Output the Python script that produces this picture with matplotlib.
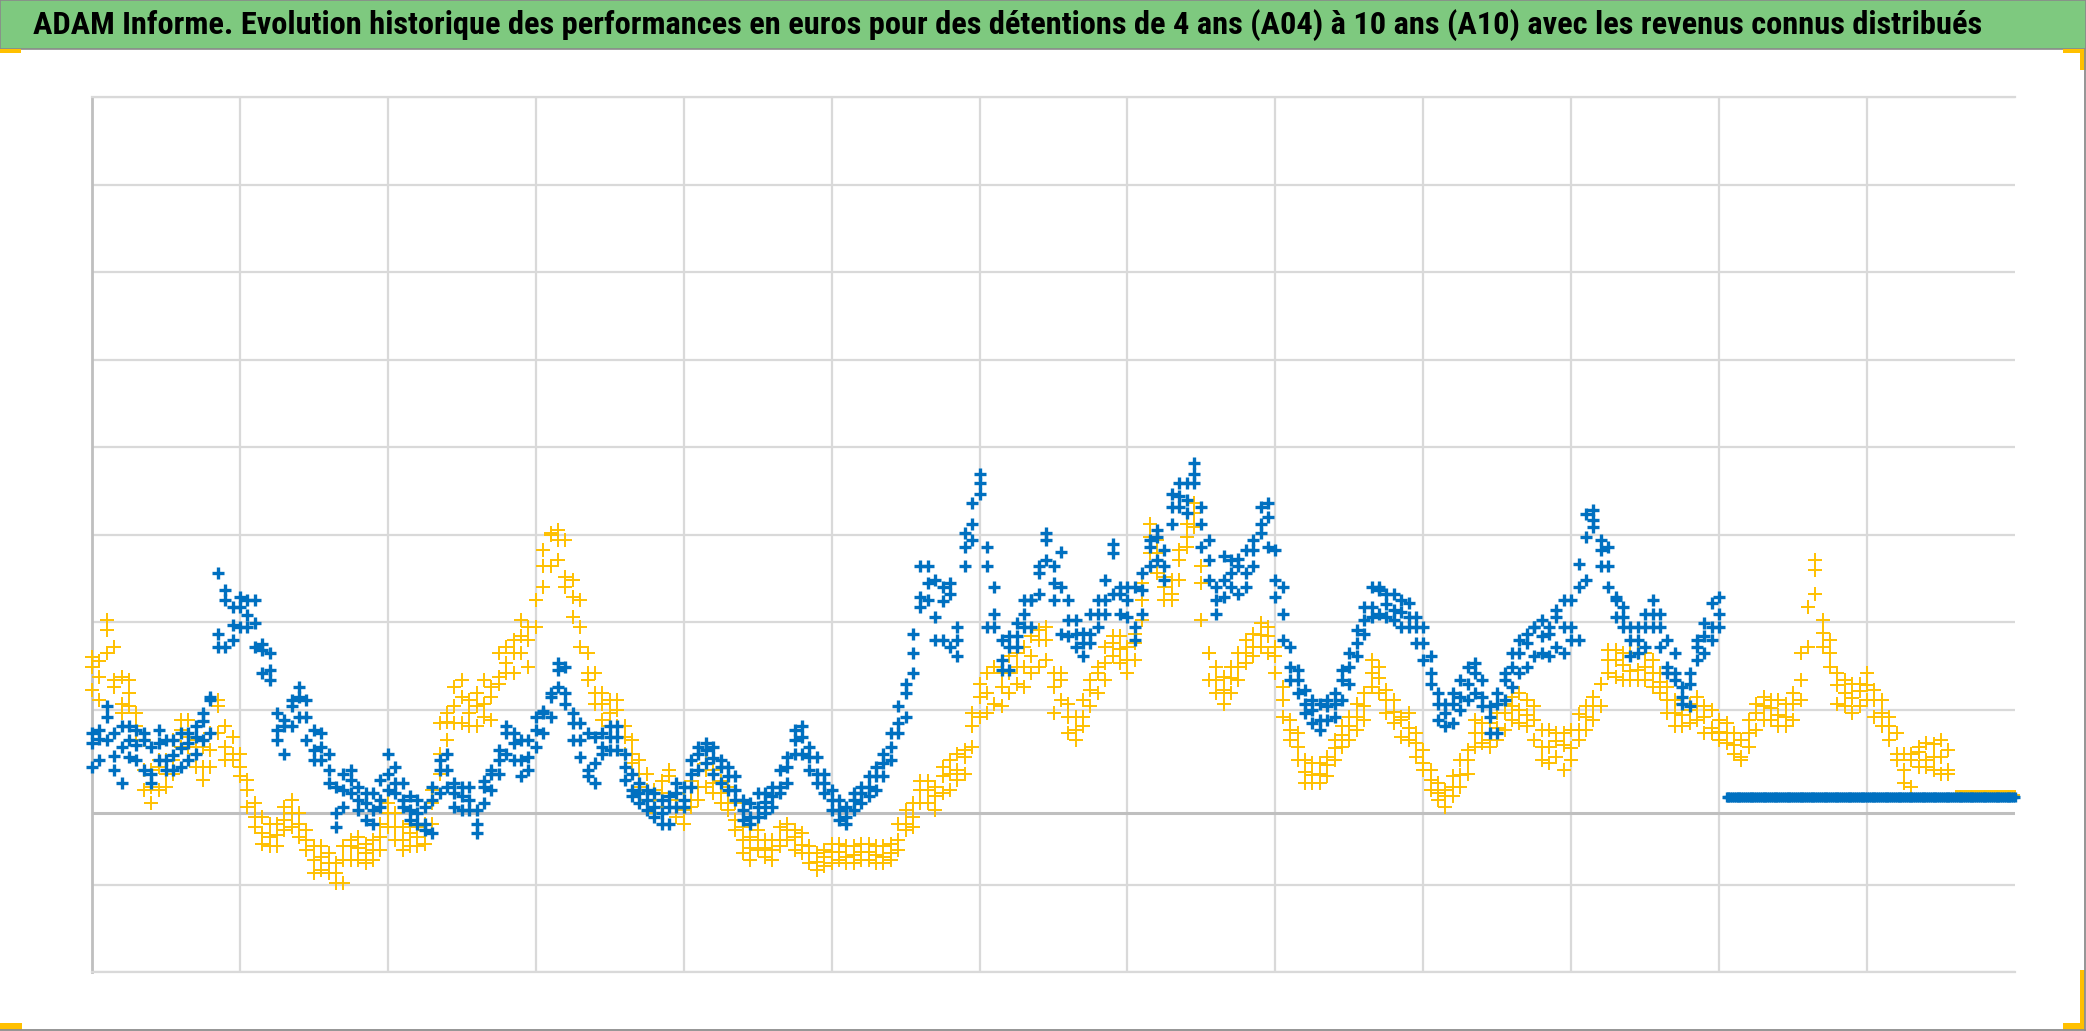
import numpy as np
import matplotlib
matplotlib.use("Agg")
import matplotlib.pyplot as plt
from matplotlib.patches import Rectangle
from matplotlib import font_manager as fm

# ---------------- data ----------------
TITLE = ("ADAM Informe. Evolution historique des performances en euros pour des "
         "détentions de 4 ans (A04) à 10 ans (A10) avec les revenus connus distribués")

STEP = 0.05          # spacing of the central readings along the x axis (grid units)
STEP_ENV = 0.10      # spacing of the readings of the upper / lower edge of each cloud
STEP_FLAT = 0.0125   # spacing of the daily points of the flat (not yet available) tail

# ---- A10 (blue) performance, % : central readings
a10_part1 = [6.2, 6.7, 9.2, 4.7, 5.8, 6.6, 6.0, 6.6, 2.7, 6.2,
             4.3, 4.8, 5.6, 6.2, 6.9, 8.7, 11.1, 18.7, 23.7, 19.7,
             21.8, 20.8, 19.9, 16.8, 14.6, 7.7, 8.1, 10.4, 11.5, 9.2,
             5.4, 5.8, 3.1, -1.8, 0.8, 2.0, -0.3, -0.7, -1.4, -0.3,
             2.7, 1.6, -0.3, -1.4, -1.8, -3.0, -0.3, 3.1, 3.1, 0.5,
             0.1, -0.3, -3.0, 1.2, 2.7, 4.3, 7.3, 6.2, 4.3, 4.6,
             7.7, 9.6, 11.5, 14.6, 11.9, 8.5, 6.6, 3.1, 3.9, 5.8,
             6.9, 6.9, 3.5, 0.8, 0.5, -0.3, -1.1, -1.8, -1.1, 0.5,
             -0.3, 2.7, 5.0, 5.4, 4.5, 3.5, 2.4, 0.8, -1.4, -2.2,
             -1.1, -0.5, 0.1, 1.2, 3.5, 6.6, 6.9, 4.6, 2.7, 1.6,
             -0.3, -1.4, -2.2, -0.3, 0.5, 1.2, 2.4, 3.9, 5.8, 8.5,
             11.9, 16.5, 22.9, 24.5, 20.6, 22.5, 23.3, 18.0, 28.6, 31.3,
             35.9, 26.4, 21.0, 15.7, 17.2, 18.4, 21.0, 22.6, 25.6, 29.4,
             24.5]
a10_part2 = [24.1, 20.3, 18.7, 17.6, 18.7, 21.0, 22.6, 27.9, 23.3, 22.6,
             18.0, 23.7, 28.6, 29.8, 26.4, 33.2, 34.4, 34.0, 37.0, 31.3,
             27.1, 22.6, 24.8, 25.6, 26.4, 25.6, 28.3, 31.3, 32.1, 24.8,
             21.0, 14.9, 13.4, 10.7, 10.0, 8.8, 10.4, 10.7, 13.4, 14.9,
             17.6, 20.3, 21.8, 23.7, 22.1, 21.4, 21.2, 20.6, 19.5, 17.6,
             14.2, 10.7, 9.6, 10.7, 11.5, 13.0, 14.2, 11.5, 9.2, 10.7,
             13.4, 14.9, 16.5, 17.6, 19.5, 18.4, 18.7, 20.6, 19.5, 19.5,
             24.1, 29.8, 31.7, 28.3, 26.4, 22.6, 20.6, 18.0, 18.0, 19.5,
             21.0, 19.5, 14.9, 14.2, 11.5, 13.0, 17.2, 18.4, 19.5, 21.0]
a10_unavailable = [0.0] * 157    # last periods: no 10-year result yet

# ---- A10 : upper and lower edge of the cloud (x = 0, 0.1, 0.2 ...)
a10_high = [7.3, 10.4, 8.1, 7.7, 5.8, 6.6, 7.3, 8.1, 11.5, 22.6,
            22.9, 22.6, 16.5, 8.8, 12.6, 7.7, 5.0, 2.7, 1.2, 0.5,
            5.0, 1.6, -0.3, 1.2, 5.0, 1.2, -1.4, 3.1, 8.1, 6.6,
            9.2, 11.9, 14.9, 8.5, 6.9, 8.1, 5.0, 1.6, 0.5, 0.1,
            1.2, 5.8, 5.8, 3.5, -0.3, 0.5, 1.2, 4.6, 8.1, 4.6,
            0.8, -1.1, 1.2, 3.5, 7.3, 13.0, 26.4, 24.8, 24.5, 30.2,
            37.0, 24.1, 18.4, 22.6, 26.4, 26.4,
            22.6, 18.8, 22.6, 29.0, 24.1, 25.6, 30.6, 34.7, 35.9, 33.2,
            24.1, 27.1, 28.3, 33.2, 28.3, 17.2, 12.3, 10.7, 11.9, 16.5,
            21.8, 24.1, 23.3, 22.2, 19.5, 11.9, 11.9, 14.9, 13.4, 11.9,
            16.5, 18.7, 20.3, 21.4, 22.6, 32.4, 29.4, 22.9, 19.5, 21.0,
            21.0, 16.5, 14.2, 19.9, 22.9]
a10_low = [3.5, 6.6, 1.6, 4.3, 1.6, 3.1, 3.5, 5.0, 7.3, 17.2,
           19.5, 17.2, 13.4, 5.0, 9.2, 4.3, 1.6, -1.1, -1.4, -3.0,
           0.8, -1.1, -3.0, -4.1, 1.2, -1.4, -4.1, 0.8, 5.0, 2.4,
           5.8, 9.2, 10.7, 4.6, 1.6, 5.4, 2.0, -0.7, -2.2, -3.0,
           -1.1, 3.1, 2.7, 0.8, -2.6, -2.2, -1.1, 1.6, 5.0, 1.6,
           -1.4, -3.0, -0.7, 0.8, 4.3, 9.2, 21.8, 18.0, 17.2, 26.4,
           34.7, 19.5, 14.6, 19.5, 23.3, 22.6,
           18.4, 16.1, 19.5, 23.3, 20.6, 21.0, 27.1, 31.3, 32.5, 28.6,
           21.0, 24.1, 24.1, 30.2, 22.9, 13.4, 9.6, 7.7, 9.2, 13.0,
           18.7, 21.0, 20.3, 19.5, 15.7, 8.8, 8.5, 11.1, 10.4, 7.3,
           12.6, 14.9, 16.5, 17.2, 18.0, 24.8, 26.4, 20.6, 16.1, 17.2,
           17.2, 13.4, 10.4, 16.5, 19.5]
# ---- A10 : upper and lower edge of the cloud (x = 0.05, 0.15, 0.25 ...)
a10_high_mid = [7.7, 7.3, 8.1, 7.3, 7.7, 6.6, 7.3, 9.6, 25.6, 21.8,
                22.6, 17.5, 9.6, 11.1, 11.1, 7.3, 1.2, 3.1, 0.5, 2.0,
                3.5, 0.1, -1.1, 4.3, 1.6, 1.2, 1.9, 5.4, 7.3, 6.6,
                9.9, 15.3, 9.6, 7.3, 7.3, 8.1, 2.7, 0.8, -0.3, 1.6,
                4.3, 6.2, 4.3, 2.4, -0.7, 0.5, 3.1, 7.7, 5.8, 2.7,
                -0.3, 0.5, 2.4, 5.0, 10.4, 18.7, 26.4, 24.1, 19.5, 33.6,
                28.6, 18.0, 19.9, 22.6, 30.2,
                28.1, 20.3, 21.0, 24.8, 24.1, 24.1, 29.4, 28.3, 35.9, 38.2,
                29.4, 27.6, 27.2, 29.4, 33.6, 24.1, 14.6, 11.1, 11.1, 14.6,
                19.1, 24.1, 23.3, 22.6, 20.6, 16.1, 10.7, 13.4, 15.3, 10.4,
                14.2, 18.0, 19.5, 19.5, 22.6, 26.7, 32.8, 28.6, 21.8, 19.5,
                22.6, 18.0, 12.6, 18.0, 22.2]
a10_low_mid = [4.3, 3.1, 4.6, 3.1, 4.3, 3.1, 4.3, 6.6, 17.2, 18.0,
               19.5, 14.2, 6.6, 8.1, 6.6, 4.3, -3.4, 0.5, -2.6, -1.1,
               0.5, -2.6, -3.7, 0.5, -1.1, -1.4, -0.7, 2.7, 4.3, 3.1,
               7.3, 12.6, 6.6, 2.4, 5.0, 5.4, 0.1, -1.4, -3.0, -1.1,
               1.2, 3.9, 1.6, -0.3, -3.0, -1.8, 0.5, 5.0, 3.1, 0.5,
               -2.6, -1.4, 0.1, 2.4, 7.3, 14.2, 22.6, 18.0, 16.1, 29.4,
               19.5, 14.6, 17.2, 19.5, 27.1,
               18.7, 17.2, 17.6, 21.0, 21.0, 19.5, 26.4, 24.8, 33.2, 35.9,
               24.8, 22.9, 23.3, 26.4, 28.6, 18.0, 11.9, 8.5, 8.8, 11.1,
               16.1, 20.6, 20.6, 19.5, 17.6, 13.0, 8.1, 10.0, 11.9, 7.3,
               11.1, 14.2, 16.1, 16.1, 16.5, 18.0, 30.9, 24.1, 19.5, 16.5,
               19.5, 14.2, 10.7, 15.7, 18.0]

# ---- A04 (yellow) performance, % : central readings
a04_part1 = [14.9, 13.8, 19.1, 13.4, 10.7, 11.9, 8.1, 3.1, 1.2, 3.5,
             2.7, 4.3, 7.7, 6.9, 5.0, 3.5, 5.4, 10.4, 5.8, 5.0,
             3.5, 0.8, -2.2, -4.1, -4.5, -4.3, -2.6, -1.8, -3.0, -4.9,
             -7.2, -6.8, -7.5, -8.7, -7.2, -5.6, -5.8, -6.4, -6.0, -4.5,
             -1.8, -3.4, -4.9, -4.1, -4.5, -3.7, -0.7, 5.0, 8.6, 10.4,
             11.5, 9.6, 10.4, 10.7, 11.5, 13.8, 15.3, 16.5, 18.4, 18.0,
             22.6, 26.4, 30.0, 29.4, 25.2, 22.9, 19.5, 14.2, 11.9, 10.7,
             9.6, 10.0, 6.9, 5.0, 2.7, 0.8, -0.3, 0.5, 2.4, -0.3,
             -1.4, -0.3, 1.2, 3.1, 1.6, 0.5, -0.7, -2.6, -4.9, -5.8,
             -4.9, -5.8, -6.0, -4.9, -3.7, -4.5, -5.5, -6.4, -7.4, -6.8,
             -6.2, -6.2, -6.8, -6.6, -6.2, -6.2, -6.6, -6.8, -6.4, -4.9,
             -3.0, -2.2, 0.8, 0.8, 0.1, 2.4, 2.7, 3.1, 4.6, 8.1,
             11.5, 11.9, 14.9, 12.6, 14.2, 14.9, 14.9, 16.1, 18.0, 18.0,
             12.6]
a04_part2 = [13.4, 9.2, 7.7, 9.2, 12.3, 14.2, 15.3, 17.6, 17.0, 15.7,
             17.6, 22.6, 29.8, 27.9, 24.1, 23.3, 27.1, 29.8, 32.5, 24.5,
             16.5, 13.4, 12.3, 13.6, 14.9, 16.5, 17.2, 18.6, 18.4, 16.1,
             11.1, 7.7, 5.8, 2.9, 2.6, 2.7, 3.7, 5.6, 7.1, 8.1,
             9.2, 10.4, 14.2, 13.6, 11.1, 9.8, 8.8, 7.9, 6.2, 3.9,
             2.0, 0.5, 0.1, 1.2, 2.6, 4.3, 7.3, 7.4, 6.6, 7.9,
             9.6, 10.4, 10.0, 9.4, 8.8, 5.8, 5.8, 6.4, 6.0, 5.6,
             7.7, 9.2, 10.4, 13.0, 15.7, 15.7, 15.1, 14.4, 14.6, 14.9,
             14.2, 13.2, 11.1, 9.6, 9.4, 10.0, 10.4, 9.2, 7.9, 7.5,
             7.3, 6.0, 4.6, 7.3, 9.6, 10.4, 10.2, 9.4, 9.2, 10.7,
             13.4, 21.8, 26.0, 18.8, 16.5, 12.8, 11.9, 11.3, 12.1, 12.8,
             11.1, 9.6, 8.1, 5.0, 3.1, 4.3, 5.2, 4.3, 4.6, 4.6,
             3.1]
a04_unavailable = [0.3] * 33

# ---- A04 : upper and lower edge of the cloud (x = 0, 0.1, 0.2 ...)
a04_high = [16.0, 20.3, 13.8, 9.6, 3.1, 4.3, 8.8, 6.6, 7.3, 8.1,
            5.0, -0.7, -3.0, -1.1, -1.8, -5.6, -6.4, -5.6, -4.5, -4.9,
            -0.7, -3.4, -3.4, 0.8, 9.6, 13.4, 11.9, 12.6, 17.2, 20.3,
            22.6, 30.2, 29.4, 22.6, 14.2, 11.1, 8.1, 4.3, 0.8, 3.1,
            -0.3, 3.1, 3.1, 1.2, -3.4, -3.7, -4.9, -3.0, -4.1, -6.4,
            -5.3, -5.6, -5.3, -5.6, -5.3, -1.4, 1.9, 1.2, 4.3, 5.4,
            13.0, 14.9, 16.1, 17.2, 19.1, 14.2,
            10.7, 11.1, 14.9, 18.4, 17.2, 24.5, 29.4, 24.8, 31.3, 26.4,
            14.9, 14.9, 18.0, 19.9, 17.2, 8.8, 4.3, 3.9, 6.6, 9.2,
            11.9, 14.9, 11.1, 9.6, 5.4, 1.6, 2.4, 5.4, 8.5, 9.6,
            11.5, 11.1, 7.7, 7.3, 7.7, 10.4, 13.0, 16.8, 16.5, 16.5,
            14.2, 11.1, 10.7, 10.4, 8.8, 7.3, 8.8, 11.5, 11.1, 11.9,
            21.8, 20.3, 14.2, 13.0, 14.2, 11.1, 7.3, 5.0, 6.2, 6.6]
a04_low = [12.3, 16.5, 9.6, 6.6, -0.7, 1.2, 5.8, 3.5, 3.5, 4.3,
           2.4, -3.4, -5.6, -3.7, -4.5, -8.7, -8.7, -9.8, -7.2, -7.2,
           -3.4, -6.0, -5.6, -3.0, 6.6, 8.5, 8.1, 8.8, 14.2, 16.5,
           19.5, 26.4, 24.1, 17.2, 10.7, 8.1, 5.0, 1.2, -1.8, -0.3,
           -3.0, -0.3, 0.5, -1.4, -6.4, -6.0, -7.2, -4.9, -6.4, -8.3,
           -7.5, -7.5, -7.2, -7.5, -7.2, -3.7, -0.7, -1.4, 0.8, 2.7,
           9.2, 10.7, 11.9, 12.6, 14.9, 9.6,
           7.3, 8.1, 11.9, 16.1, 14.2, 20.3, 25.6, 22.6, 28.6, 20.3,
           11.9, 11.9, 15.3, 17.2, 14.2, 6.6, 1.6, 1.6, 4.3, 6.6,
           8.8, 11.9, 8.5, 6.6, 3.1, -0.3, 0.1, 2.7, 6.2, 6.6,
           8.8, 8.1, 4.3, 4.6, 4.3, 7.7, 10.4, 13.8, 13.4, 13.4,
           11.9, 8.1, 8.5, 7.3, 6.6, 5.0, 5.8, 8.8, 8.1, 8.8,
           17.2, 17.2, 10.7, 9.6, 11.1, 8.1, 4.3, 1.2, 3.5, 2.7]
# ---- A04 : upper and lower edge of the cloud (x = 0.05, 0.15, 0.25 ...)
a04_high_mid = [15.6, 17.2, 13.4, 6.6, 4.3, 6.6, 8.8, 5.8, 11.1, 6.9,
                2.0, -2.2, -3.0, -0.3, -3.7, -5.6, -7.5, -4.9, -5.3, -3.0,
                -1.8, -3.0, -3.0, 8.5, 12.6, 11.1, 13.4, 16.5, 18.0, 19.5,
                28.3, 30.6, 24.8, 16.5, 11.9, 11.1, 6.6, 2.7, 1.9, 0.5,
                1.9, 3.9, 1.9, -0.7, -4.5, -4.9, -3.4, -3.7, -5.6, -6.0,
                -5.3, -5.6, -5.3, -5.6, -3.0, -0.7, 1.9, 3.5, 5.0, 9.6,
                14.2, 14.2, 16.5, 18.4, 19.5,
                14.2, 9.2, 13.4, 17.2, 18.4, 18.7, 31.3, 25.2, 28.3, 33.6,
                16.5, 13.8, 16.5, 18.7, 19.5, 12.6, 7.3, 3.9, 4.6, 8.1,
                10.7, 15.7, 12.3, 9.2, 7.3, 3.1, 0.8, 4.3, 8.8, 8.5,
                10.7, 11.9, 10.4, 7.7, 7.3, 9.5, 11.5, 16.8, 16.5, 16.5,
                15.7, 12.6, 10.7, 11.5, 10.0, 8.5, 6.6, 10.7, 11.1, 10.7,
                16.5, 27.1, 18.0, 13.4, 13.0, 12.3, 9.2, 5.0, 5.8, 6.1,
                5.4]
a04_low_mid = [11.1, 12.6, 10.4, 0.8, 0.8, 2.7, 5.8, 2.0, 7.3, 4.3,
               -1.1, -5.3, -5.6, -3.4, -6.0, -8.3, -9.8, -7.2, -7.5, -6.0,
               -4.9, -5.6, -5.3, 2.7, 8.5, 8.1, 9.2, 13.0, 14.2, 14.9,
               24.1, 27.1, 20.6, 13.4, 8.8, 8.1, 3.9, -0.3, -1.1, -2.2,
               -1.1, 1.2, -0.7, -3.7, -7.2, -6.8, -5.6, -6.0, -7.5, -7.9,
               -7.2, -7.5, -7.2, -7.5, -6.0, -3.4, -0.7, 0.5, 2.0, 5.8,
               9.6, 10.4, 13.0, 14.2, 15.7,
               11.1, 6.6, 10.4, 13.4, 15.3, 15.7, 27.9, 22.6, 24.8, 30.9,
               13.4, 10.7, 13.4, 16.1, 16.5, 9.2, 4.3, 1.6, 2.4, 5.8,
               7.7, 12.6, 9.6, 6.9, 4.6, 0.8, -1.1, 1.2, 5.8, 5.8,
               7.7, 8.5, 6.6, 3.9, 3.1, 6.6, 8.8, 14.2, 13.4, 13.4,
               12.6, 9.6, 8.1, 8.8, 7.3, 6.2, 4.3, 7.7, 8.8, 8.1,
               11.1, 23.3, 14.9, 10.4, 10.4, 9.2, 6.6, 1.6, 3.5, 3.1,
               2.7]

y_ticks = [-20, -10, 10, 20, 30, 40, 50, 60, 70, 80]
x_ticks = list(range(1, 13))
axis_cross = -1.83

# ---------------- x positions ----------------
a10 = np.array(a10_part1 + a10_part2)
a04 = np.array(a04_part1 + a04_part2)
x10 = np.arange(len(a10)) * STEP
x04 = np.arange(len(a04)) * STEP
x10_flat = x10[-1] + STEP + np.arange(len(a10_unavailable)) * STEP_FLAT
x04_flat = x04[-1] + STEP + np.arange(len(a04_unavailable)) * STEP_FLAT
xe10 = np.arange(len(a10_high)) * STEP_ENV
xe04 = np.arange(len(a04_high)) * STEP_ENV
xm10 = STEP_ENV / 2 + np.arange(len(a10_high_mid)) * STEP_ENV
xm04 = STEP_ENV / 2 + np.arange(len(a04_high_mid)) * STEP_ENV

# ---------------- figure ----------------
W, H = 2086, 1031
fig = plt.figure(figsize=(W / 100, H / 100), dpi=100)
fig.patch.set_facecolor("white")


def fbox(x0, y0, x1, y1):
    """pixel box (top-left origin) -> figure fraction rect"""
    return (x0 / W, 1 - y1 / H), (x1 - x0) / W, (y1 - y0) / H


GREEN = "#7EC97F"
ORANGE = "#FFC000"
BLUE = "#0070C0"

# title band
xy, w, h = fbox(0, 0, W, 49)
fig.patches.append(Rectangle(xy, w, h, transform=fig.transFigure,
                             facecolor=GREEN, edgecolor="#8a8a8a", lw=1.2))
# outer frame (right & bottom)
fig.add_artist(plt.Line2D([2084.5 / W, 2084.5 / W], [1 - 49 / H, 1 - 1030 / H],
                          transform=fig.transFigure, color="#8c8c8c", lw=1.3))
fig.add_artist(plt.Line2D([0, 2085 / W], [1 - 1030 / H, 1 - 1030 / H],
                          transform=fig.transFigure, color="#8c8c8c", lw=1.3))
# orange corner marks
for box in [(0, 49, 21, 53), (2063, 49, 2086, 53), (2080, 49, 2086, 70),
            (0, 1023, 22, 1030), (2080, 970, 2085, 1030), (2063, 1023, 2085, 1030)]:
    xy, w, h = fbox(*box)
    fig.patches.append(Rectangle(xy, w, h, transform=fig.transFigure,
                                 facecolor=ORANGE, edgecolor="none"))

# title text
avail = {f.name for f in fm.fontManager.ttflist}
fam = next((f for f in ["Liberation Sans Narrow", "Roboto Condensed", "Open Sans",
                        "Liberation Sans"] if f in avail), "DejaVu Sans")
t = fig.text(33 / W, 1 - 25 / H, TITLE, fontsize=30, fontweight="bold",
             family=[fam, "DejaVu Sans"], color="black", ha="left", va="center")
fig.canvas.draw()
bb = t.get_window_extent()
t.set_fontsize(30 * (1947 / bb.width))

# plot area
x0, x1, yt, yb = 92, 2015, 97.5, 972.3
ax = fig.add_axes([x0 / W, 1 - yb / H, (x1 - x0) / W, (yb - yt) / H])
ax.set_xlim(0, 13)
ax.set_ylim(-20, 80)
ax.set_xticks(x_ticks)
ax.set_yticks(y_ticks)
ax.tick_params(length=0, labelbottom=False, labelleft=False)
ax.grid(True, color="#D9D9D9", lw=1.6, zorder=0)
ax.set_axisbelow(True)
ax.spines["right"].set_visible(False)
ax.spines["top"].set_color("#D9D9D9")
ax.spines["top"].set_linewidth(1.6)
ax.spines["bottom"].set_color("#D9D9D9")
ax.spines["bottom"].set_linewidth(1.6)
ax.spines["left"].set_color("#BFBFBF")
ax.spines["left"].set_linewidth(2.0)
ax.axhline(axis_cross, color="#BFBFBF", lw=2.2, zorder=1)

ystyle = dict(linestyle="none", marker="+", color=ORANGE, markersize=10,
              markeredgewidth=1.4, zorder=3, clip_on=False)
bstyle = dict(linestyle="none", marker="+", color=BLUE, markersize=8.5,
              markeredgewidth=2.4, zorder=4, clip_on=False)
flat_b = dict(bstyle, markersize=7)
flat_y = dict(ystyle, markersize=7)
for xs, ys, st in [(x04, a04, ystyle), (x04_flat, a04_unavailable, flat_y),
                   (xe04, a04_high, ystyle), (xe04, a04_low, ystyle),
                   (xm04, a04_high_mid, ystyle), (xm04, a04_low_mid, ystyle)]:
    ax.plot(xs, ys, **st)
for xs, ys, st in [(x10, a10, bstyle), (x10_flat, a10_unavailable, flat_b),
                   (xe10, a10_high, bstyle), (xe10, a10_low, bstyle),
                   (xm10, a10_high_mid, bstyle), (xm10, a10_low_mid, bstyle)]:
    ax.plot(xs, ys, **st)

fig.savefig("out.png", dpi=100, facecolor="white")
